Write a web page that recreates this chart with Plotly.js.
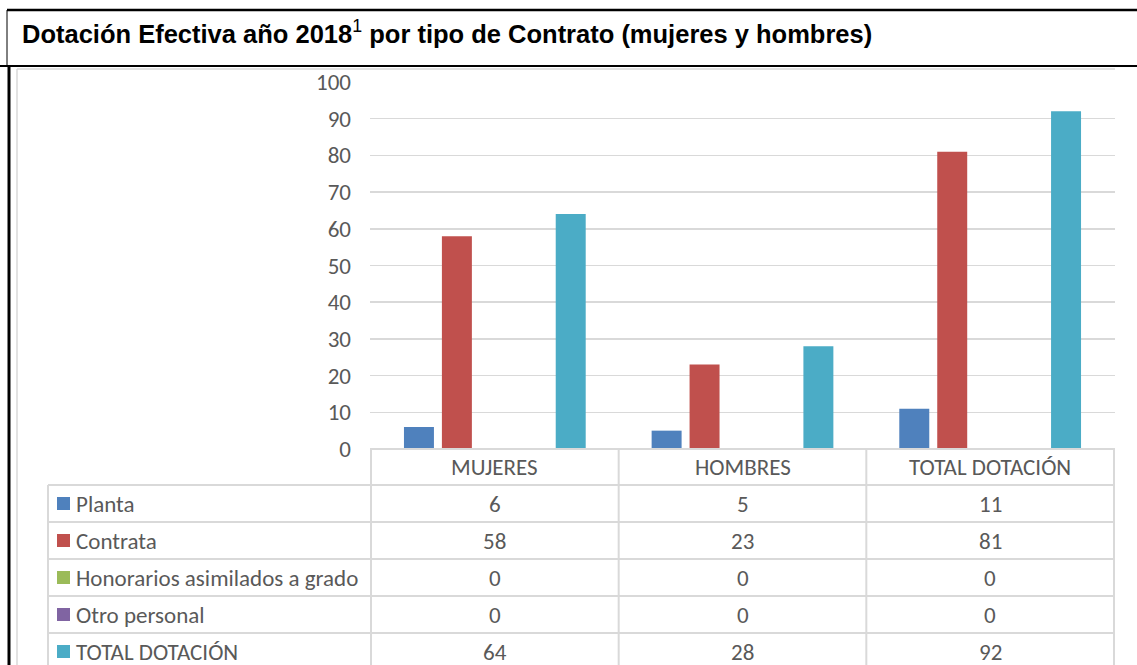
<!DOCTYPE html>
<html>
<head>
<meta charset="utf-8">
<script src="https://cdn.plot.ly/plotly-3.0.1.min.js"></script>
<style>html,body{margin:0;padding:0;background:#fff;}#chart{width:1137px;height:665px;}</style>
</head>
<body>
<div id="chart"></div>
<script>
// ---- data ----
const categories = ['MUJERES', 'HOMBRES', 'TOTAL DOTACIÓN'];
const seriesNames = ['Planta', 'Contrata', 'Honorarios asimilados a grado', 'Otro personal', 'TOTAL DOTACIÓN'];
const planta = [6, 5, 11];
const contrata = [58, 23, 81];
const honorarios = [0, 0, 0];
const otroPersonal = [0, 0, 0];
const totalDotacion = [64, 28, 92];
const yTicks = [0, 10, 20, 30, 40, 50, 60, 70, 80, 90, 100];
const titleMain = 'Dotación Efectiva año 2018';
const titleNote = '1';
const titleRest = ' por tipo de Contrato (mujeres y hombres)';

const seriesValues = [planta, contrata, honorarios, otroPersonal, totalDotacion];
const colors = ['#4F81BD', '#C0504D', '#9BBB59', '#8064A2', '#4BACC6'];

// ---- layout helpers (pixel -> paper) ----
const W = 1137, H = 665;
const X = p => p / W;
const Y = p => 1 - p / H;
const grid = '#D9D9D9';
const txt = '#595959';
const bodyFont = 'Carlito, Calibri, Lato, "Open Sans", sans-serif';
const fs = 23;

const plotTop = 82, plotBottom = 449, plotLeft = 370, plotRight = 1115;
const headerBottom = 485, rowH = 37, tableLeft = 48;

const traces = seriesNames.map((name, i) => ({
  type: 'bar',
  name: name,
  x: categories,
  y: seriesValues[i],
  marker: {color: colors[i]},
  hoverinfo: 'x+y+name'
}));

const shapes = [];
const line = (x0, y0, x1, y1, color, width) => shapes.push({
  type: 'line', xref: 'paper', yref: 'paper',
  x0: X(x0), x1: X(x1), y0: Y(y0), y1: Y(y1),
  line: {color: color, width: width}
});

// frame / title box
line(7, 10, 1137, 10, '#000', 2.5);
line(7, 10, 7, 66, '#000', 1);
line(0, 66, 1137, 66, '#000', 2);
line(9, 66, 9, 665, '#000', 3);
// chart area border
line(17, 69, plotRight, 69, grid, 1.5);
line(17, 69, 17, 665, grid, 1.5);

// table horizontal lines
line(plotLeft, plotBottom, plotRight, plotBottom, grid, 2);
for (let r = 0; r < seriesNames.length; r++) {
  const yy = headerBottom + r * rowH;
  line(tableLeft, yy, plotRight, yy, grid, 2);
}
line(tableLeft, headerBottom, tableLeft, 665, grid, 2);
// vertical lines at category boundaries (data coords)
for (let c = 0; c <= categories.length; c++) {
  shapes.push({type: 'line', xref: 'x', yref: 'paper', x0: c - 0.5, x1: c - 0.5,
    y0: Y(plotBottom), y1: Y(665), line: {color: grid, width: 2}});
}

const annotations = [];
// header categories
categories.forEach((c, i) => annotations.push({
  xref: 'x', yref: 'paper', x: i, y: Y((plotBottom + headerBottom) / 2),
  text: c, showarrow: false, xanchor: 'center', yanchor: 'middle',
  font: {family: bodyFont, size: fs, color: txt}
}));
// rows
seriesNames.forEach((name, r) => {
  const cy = headerBottom + r * rowH + rowH / 2;
  shapes.push({type: 'rect', xref: 'paper', yref: 'paper',
    x0: X(57), x1: X(70), y0: Y(cy - 6.5), y1: Y(cy + 6.5),
    fillcolor: colors[r], line: {width: 0}});
  annotations.push({xref: 'paper', yref: 'paper', x: X(74), y: Y(cy), text: name,
    showarrow: false, xanchor: 'left', yanchor: 'middle',
    font: {family: bodyFont, size: fs, color: txt}});
  seriesValues[r].forEach((v, j) => annotations.push({
    xref: 'x', yref: 'paper', x: j, y: Y(cy), text: String(v),
    showarrow: false, xanchor: 'center', yanchor: 'middle',
    font: {family: bodyFont, size: fs, color: txt}
  }));
});

// title
annotations.push({xref: 'paper', yref: 'paper', x: X(20), y: Y(32),
  text: '<b>' + titleMain + '</b><sup>' + titleNote + '</sup><b>' + titleRest + '</b>',
  showarrow: false, xanchor: 'left', yanchor: 'middle',
  font: {family: '"Liberation Sans Narrow", "Arial Narrow", "Liberation Sans", Arial, sans-serif', size: 25.5, color: '#000'}});

const layout = {
  width: W, height: H,
  margin: {l: 0, r: 0, t: 0, b: 0},
  paper_bgcolor: '#fff', plot_bgcolor: '#fff',
  showlegend: false,
  barmode: 'group',
  bargap: 0.234,
  bargroupgap: 0.21,
  xaxis: {
    domain: [X(plotLeft), X(plotRight)],
    type: 'category',
    showticklabels: false, showgrid: false, zeroline: false, showline: false, ticks: ''
  },
  yaxis: {
    domain: [Y(plotBottom), Y(plotTop)],
    range: [0, 100],
    tickvals: yTicks,
    ticktext: yTicks.map(String),
    showgrid: true, gridcolor: grid, gridwidth: 1.5,
    zeroline: false, showline: false, ticks: '',
    ticklabelstandoff: 18,
    tickfont: {family: bodyFont, size: fs, color: txt}
  },
  shapes: shapes,
  annotations: annotations
};

Plotly.newPlot('chart', traces, layout, {displayModeBar: false, staticPlot: true});
</script>
</body>
</html>
